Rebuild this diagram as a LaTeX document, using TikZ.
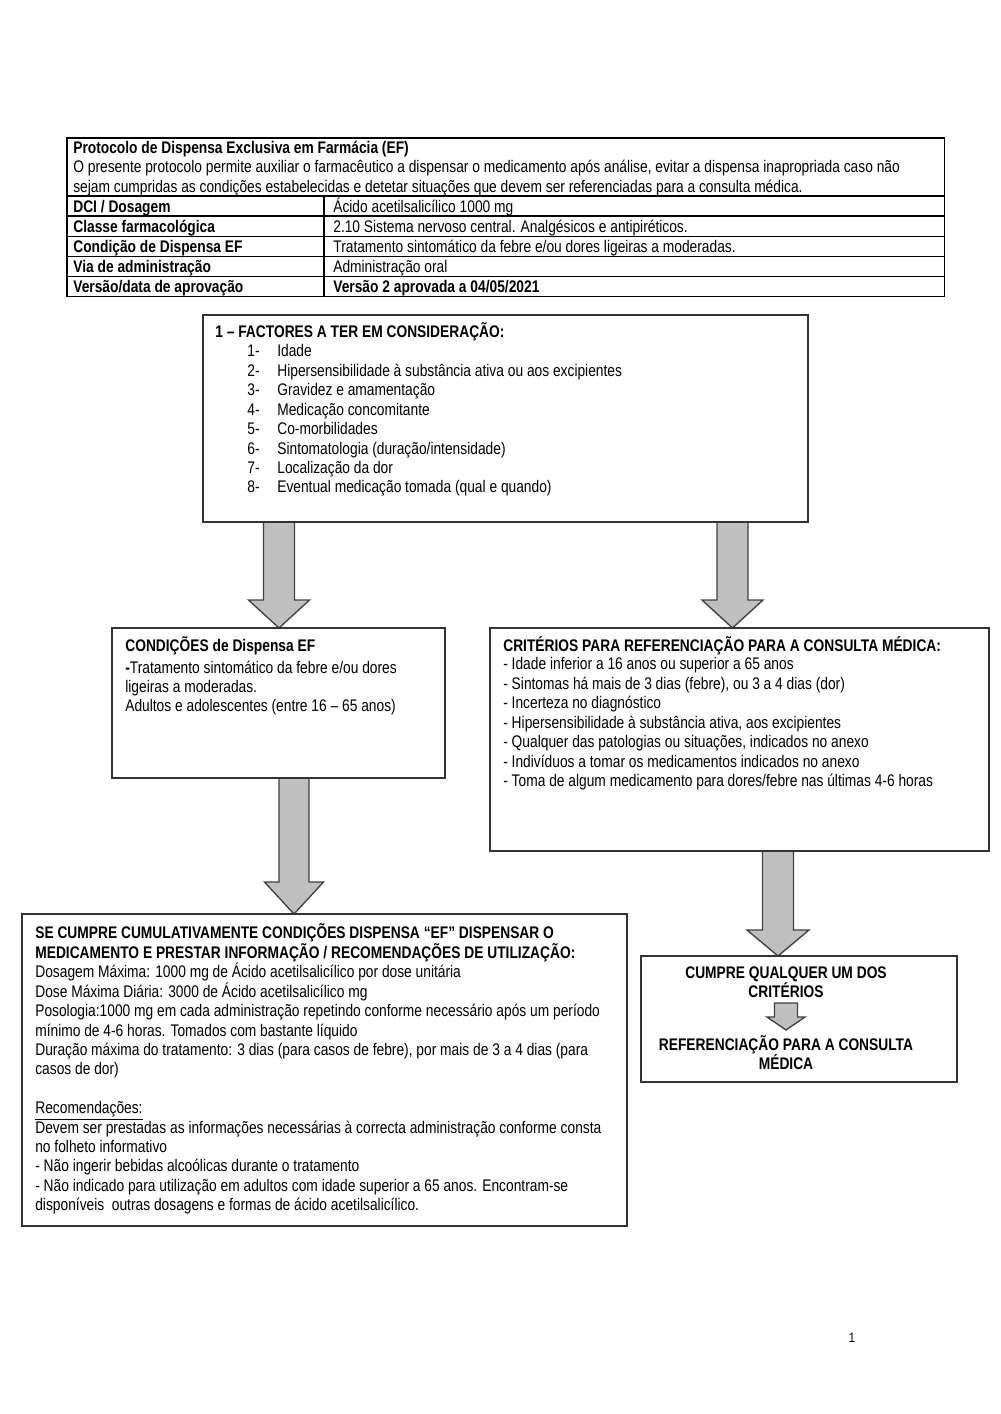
\documentclass[tikz,border=0pt]{standalone}
\usepackage{fontspec}
\setmainfont[FakeStretch=0.82]{Liberation Sans}
\usetikzlibrary{fit}
\newcommand\blockarr[6]{%
  \draw[arr] (#1-#4,#2) -- (#1+#4,#2) -- (#1+#4,#3) -- (#1+#5,#3) -- (#1,#6) -- (#1-#5,#3) -- (#1-#4,#3) -- cycle;}
\def\lp{19.41}
\begin{document}
\begin{tikzpicture}[x=0.595pt,y=-0.595pt,
  box/.style={draw=black!80, line width=0.9pt, inner sep=0},
  tab/.style={draw=black, line width=0.6pt},
  t/.style={anchor=base west, inner sep=0, align=left, font=\fontsize{10}{11.55}\selectfont},
  tc/.style={anchor=base, inner sep=0, align=center, font=\fontsize{10}{11.55}\selectfont\bfseries},
  arr/.style={fill=black!25, draw=black!75, line width=0.8pt, line join=miter}]
\useasboundingbox (0,0) rectangle (1000,1414);

% ---------- table ----------
\node[tab, fit={(67,138) (944,296)}, inner sep=0] (tbl) {};
\foreach \yy in {196,216,236,256,276} \draw[tab] (67,\yy) -- (944,\yy);
\draw[tab] (324,196) -- (324,296);
% multi-line nodes: base anchor = baseline of last line
\node[t] (hd) at (73,153.5+2*\lp) {\textbf{Protocolo de Dispensa Exclusiva em Farmácia (EF)}\\
O presente protocolo permite auxiliar o farmacêutico a dispensar o medicamento após análise, evitar a dispensa inapropriada caso não\\
sejam cumpridas as condições estabelecidas e detetar situações que devem ser referenciadas para a consulta médica.};
\node[t] (l1) at (73,212) {\textbf{DCI / Dosagem}};
\node[t] (l2) at (73,232) {\textbf{Classe farmacológica}};
\node[t] (l3) at (73,252) {\textbf{Condição de Dispensa EF}};
\node[t] (l4) at (73,272) {\textbf{Via de administração}};
\node[t] (l5) at (73,292) {\textbf{Versão/data de aprovação}};
\node[t] (r1) at (333,212) {Ácido acetilsalicílico 1000 mg};
\node[t] (r2) at (333,232) {2.10 Sistema nervoso central. Analgésicos e antipiréticos.};
\node[t] (r3) at (333,252) {Tratamento sintomático da febre e/ou dores ligeiras a moderadas.};
\node[t] (r4) at (333,272) {Administração oral};
\node[t] (r5) at (333,292) {\textbf{Versão 2 aprovada a 04/05/2021}};

% ---------- arrows ----------
\blockarr{279}{522}{600}{15.5}{30.5}{628}
\blockarr{732.5}{522}{600}{15.5}{30.5}{628}
\blockarr{294}{778}{882}{15}{29.5}{914}
\blockarr{778}{851}{930}{15.5}{31}{956}
\blockarr{786}{1003}{1017}{11.5}{19}{1030}

% ---------- boxes ----------
\node[box, fit={(203,315) (808,522)}] (f) {};
\node[box, fit={(112,628) (445,778)}] (c) {};
\node[box, fit={(490,628) (989,851)}] (r) {};
\node[box, fit={(22,914) (627,1226)}] (s) {};
\node[box, fit={(641,956) (957,1082)}] (q) {};

% ---------- box 1 ----------
\node[t] (ft) at (215,337) {\textbf{1 – FACTORES A TER EM CONSIDERAÇÃO:}};
\node[t] (fn) at (247,357+7*\lp) {1-\\2-\\3-\\4-\\5-\\6-\\7-\\8-};
\node[t] (fi) at (277,357+7*\lp) {Idade\\
Hipersensibilidade à substância ativa ou aos excipientes\\
Gravidez e amamentação\\
Medicação concomitante\\
Co-morbilidades\\
Sintomatologia (duração/intensidade)\\
Localização da dor\\
Eventual medicação tomada (qual e quando)};

% ---------- condições ----------
\node[t] (ct) at (125,651) {\textbf{CONDIÇÕES de Dispensa EF}};
\node[t] (cb) at (125,673+2*\lp) {\textbf{-}Tratamento sintomático da febre e/ou dores\\
ligeiras a moderadas.\\
Adultos e adolescentes (entre 16 – 65 anos)};

% ---------- critérios ----------
\node[t] (rt) at (503,651) {\textbf{CRITÉRIOS PARA REFERENCIAÇÃO PARA A CONSULTA MÉDICA:}};
\node[t] (rb) at (503,670+6*\lp) {- Idade inferior a 16 anos ou superior a 65 anos\\
- Sintomas há mais de 3 dias (febre), ou 3 a 4 dias (dor)\\
- Incerteza no diagnóstico\\
- Hipersensibilidade à substância ativa, aos excipientes\\
- Qualquer das patologias ou situações, indicados no anexo\\
- Indivíduos a tomar os medicamentos indicados no anexo\\
- Toma de algum medicamento para dores/febre nas últimas 4-6 horas};

% ---------- se cumpre ----------
\node[t] (sb) at (35,939+14*\lp) {\textbf{SE CUMPRE CUMULATIVAMENTE CONDIÇÕES DISPENSA “EF” DISPENSAR O}\\
\textbf{MEDICAMENTO E PRESTAR INFORMAÇÃO / RECOMENDAÇÕES DE UTILIZAÇÃO:}\\
Dosagem Máxima: 1000 mg de Ácido acetilsalicílico por dose unitária\\
Dose Máxima Diária: 3000 de Ácido acetilsalicílico mg\\
Posologia:1000 mg em cada administração repetindo conforme necessário após um período\\
mínimo de 4-6 horas. Tomados com bastante líquido\\
Duração máxima do tratamento: 3 dias (para casos de febre), por mais de 3 a 4 dias (para\\
casos de dor)\\
\mbox{}\\
\underline{Recomendações:}\\
Devem ser prestadas as informações necessárias à correcta administração conforme consta\\
no folheto informativo\\
- Não ingerir bebidas alcoólicas durante o tratamento\\
- Não indicado para utilização em adultos com idade superior a 65 anos. Encontram-se\\
disponíveis\ \ outras dosagens e formas de ácido acetilsalicílico.};

% ---------- cumpre ----------
\node[tc] (q1) at (786,978+\lp) {CUMPRE QUALQUER UM DOS\\CRITÉRIOS};
\node[tc] (q2) at (786,1050+\lp) {REFERENCIAÇÃO PARA A CONSULTA\\MÉDICA};

\node[t, anchor=base] (pg) at (852,1342) {\fontsize{8}{9}\selectfont 1};
\end{tikzpicture}
\end{document}
